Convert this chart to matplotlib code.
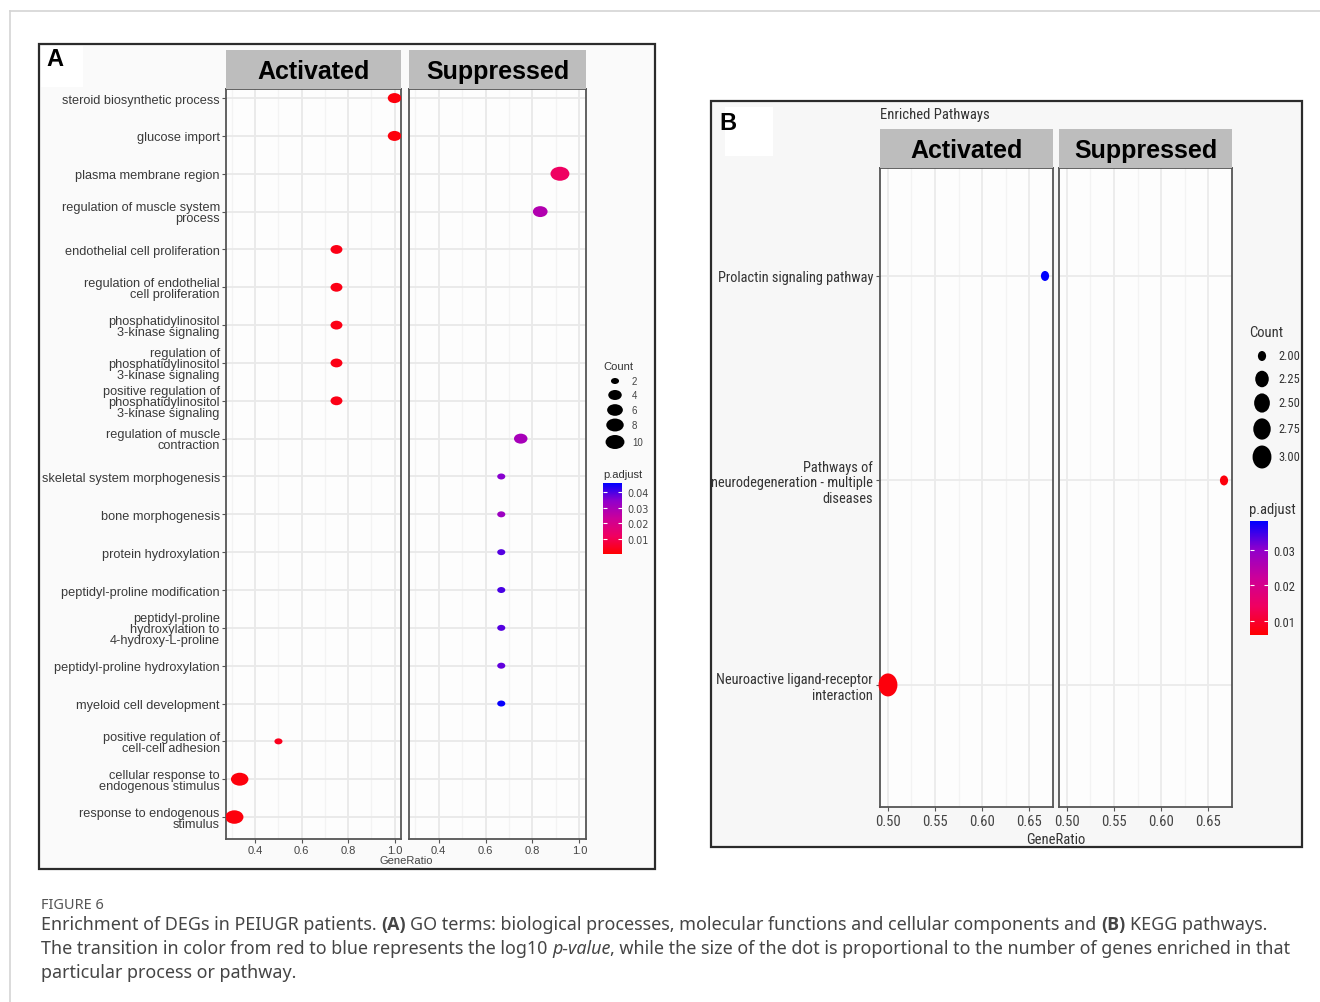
import numpy as np
import matplotlib
matplotlib.use('Agg')
import matplotlib.pyplot as plt
from matplotlib.colors import LinearSegmentedColormap, Normalize
from matplotlib.cm import ScalarMappable
from matplotlib.patches import Rectangle
from matplotlib.lines import Line2D
from matplotlib.path import Path
from matplotlib.markers import MarkerStyle
from matplotlib.transforms import Affine2D
import logging

logging.getLogger('matplotlib.font_manager').setLevel(logging.ERROR)

W, H = 1320, 1003

# ---- panel A: GO terms (top to bottom) ----
go_terms = [
    'steroid biosynthetic process',
    'glucose import',
    'plasma membrane region',
    'regulation of muscle system\nprocess',
    'endothelial cell proliferation',
    'regulation of endothelial\ncell proliferation',
    'phosphatidylinositol\n3-kinase signaling',
    'regulation of\nphosphatidylinositol\n3-kinase signaling',
    'positive regulation of\nphosphatidylinositol\n3-kinase signaling',
    'regulation of muscle\ncontraction',
    'skeletal system morphogenesis',
    'bone morphogenesis',
    'protein hydroxylation',
    'peptidyl-proline modification',
    'peptidyl-proline\nhydroxylation to\n4-hydroxy-L-proline',
    'peptidyl-proline hydroxylation',
    'myeloid cell development',
    'positive regulation of\ncell-cell adhesion',
    'cellular response to\nendogenous stimulus',
    'response to endogenous\nstimulus',
]

go_act_rows = [0, 1, 4, 5, 6, 7, 8, 17, 18, 19]
go_act_ratio = [1.0, 1.0, 0.75, 0.75, 0.75, 0.75, 0.75, 0.5, 0.333, 0.31]
go_act_count = [4, 4, 3, 3, 3, 3, 3, 2, 8, 9]
go_act_padj = [0.002, 0.002, 0.003, 0.003, 0.003, 0.003, 0.003, 0.004, 0.002, 0.002]

go_sup_rows = [2, 3, 9, 10, 11, 12, 13, 14, 15, 16]
go_sup_ratio = [0.917, 0.833, 0.75, 0.667, 0.667, 0.667, 0.667, 0.667, 0.667, 0.667]
go_sup_count = [10, 5, 4, 2, 2, 2, 2, 2, 2, 2]
go_sup_padj = [0.012, 0.028, 0.030, 0.035, 0.032, 0.039, 0.040, 0.039, 0.038, 0.045]

go_count_breaks = [2, 4, 6, 8, 10]
go_padj_ticks = [0.01, 0.02, 0.03, 0.04]

# ---- panel B: KEGG pathways (bottom to top) ----
kegg_terms = [
    'Neuroactive ligand-receptor\ninteraction',
    'Pathways of\nneurodegeneration - multiple\ndiseases',
    'Prolactin signaling pathway',
]
kegg_act_rows = [2, 0]
kegg_act_ratio = [0.667, 0.5]
kegg_act_count = [2, 3]
kegg_act_padj = [0.038, 0.007]

kegg_sup_rows = [1]
kegg_sup_ratio = [0.667]
kegg_sup_count = [2]
kegg_sup_padj = [0.007]

kegg_count_breaks = [2.00, 2.25, 2.50, 2.75, 3.00]
kegg_padj_ticks = [0.01, 0.02, 0.03]

facets = ['Activated', 'Suppressed']

cmap = LinearSegmentedColormap.from_list(
    'padj', ['#ff0000', '#f00060', '#cc0099', '#9000cc', '#0000ff'])
norm_a = Normalize(0.0005, 0.0457)
norm_b = Normalize(0.006, 0.038)

SANS = ['Liberation Sans', 'DejaVu Sans']
NARROW = ['Liberation Sans Narrow', 'Roboto Condensed', 'Noto Sans Condensed',
          'Open Sans Condensed', 'Liberation Sans', 'DejaVu Sans']

fig = plt.figure(figsize=(W / 100, H / 100), dpi=100)
fig.patch.set_facecolor('white')


def px_axes(x0, y0, x1, y1, **kw):
    return fig.add_axes([x0 / W, 1 - y1 / H, (x1 - x0) / W, (y1 - y0) / H], **kw)


def px_rect(x0, y0, x1, y1, **kw):
    r = Rectangle((x0 / W, 1 - y1 / H), (x1 - x0) / W, (y1 - y0) / H,
                  transform=fig.transFigure, **kw)
    fig.add_artist(r)
    return r


def px_text(x, y, s, **kw):
    return fig.text(x / W, 1 - y / H, s, **kw)


def ellipse(sx, sy):
    return MarkerStyle(Path.unit_circle().transformed(Affine2D().scale(sx, sy)))


# dot sizes (pixels -> points^2)
def size_a(c):
    h = 6 + 8 * np.sqrt((np.asarray(c, float) - 2) / 8)
    return (1.35 * h * 0.72) ** 2


def size_b(c):
    h = 10 + 13 * np.sqrt(np.asarray(c, float) - 2)
    return (h * 0.72) ** 2


mk_a = ellipse(1.35, 1.0)
mk_b = ellipse(0.82, 1.0)

# outer page lines
fig.add_artist(Line2D([10 / W, 1], [1 - 12 / H] * 2, color='#d4d4d4', lw=1.2))
fig.add_artist(Line2D([10 / W] * 2, [0, 1 - 12 / H], color='#d4d4d4', lw=1.2))

# panel frames
frame_a = px_rect(39, 45, 655, 870, facecolor='#fafafa', edgecolor='#2b2b2b', lw=1.6, zorder=-2)
frame_b = px_rect(711, 102, 1302, 848, facecolor='#f7f7f7', edgecolor='#2b2b2b', lw=1.6,
                  zorder=-2)
px_rect(41, 47, 83, 88, facecolor='white', edgecolor='none', zorder=-1)
px_rect(725, 108, 773, 157, facecolor='white', edgecolor='none', zorder=-1)
px_text(55, 60, 'A', fontsize=17, fontweight='bold', ha='center', va='center', family=SANS)
px_text(728, 124, 'B', fontsize=17, fontweight='bold', ha='center', va='center', family=SANS)


def style_facet(ax):
    ax.set_facecolor('#fdfdfd')
    for sp in ax.spines.values():
        sp.set_color('#555555')
        sp.set_linewidth(1.3)
    ax.set_axisbelow(True)


# ---- panel A ----
n_go = len(go_terms)
go_data = [(go_act_rows, go_act_ratio, go_act_count, go_act_padj),
           (go_sup_rows, go_sup_ratio, go_sup_count, go_sup_padj)]
for k, (x0, x1) in enumerate([(226, 401), (409, 586)]):
    ax = px_axes(x0, 90, x1, 840)
    style_facet(ax)
    ax.set_xlim(0.274, 1.028)
    ax.set_ylim(-0.58, n_go - 1 + 0.24)
    ax.set_xticks([0.4, 0.6, 0.8, 1.0])
    ax.set_xticklabels(['0.4', '0.6', '0.8', '1.0'])
    ax.set_xticks([0.3, 0.5, 0.7, 0.9], minor=True)
    ax.set_yticks(np.arange(n_go))
    ax.grid(which='major', color='#e9e9e9', lw=1.3)
    ax.grid(which='minor', axis='x', color='#f3f3f3', lw=0.9)
    ax.tick_params(axis='x', which='major', length=3, color='#555555', labelsize=8,
                   labelcolor='#444444', pad=1)
    ax.tick_params(which='minor', length=0)
    if k == 0:
        ax.set_yticklabels(go_terms[::-1], fontsize=9.2, color='#3a3a3a',
                           family=SANS, linespacing=0.9)
        ax.tick_params(axis='y', length=3, color='#555555', pad=1.5)
    else:
        ax.set_yticklabels([])
        ax.tick_params(axis='y', length=0)
    for lbl in ax.get_xticklabels():
        lbl.set_family(SANS)
    rows, ratio, count, padj = go_data[k]
    ax.scatter(ratio, [n_go - 1 - r for r in rows], s=size_a(count), c=padj,
               cmap=cmap, norm=norm_a, marker=mk_a, edgecolors='none', zorder=3)
    st = px_axes(x0, 51, x1, 90)
    st.set_facecolor('#bdbdbd')
    st.set_xticks([])
    st.set_yticks([])
    for sp in st.spines.values():
        sp.set_visible(False)
    st.text(0.5, 0.45, facets[k], transform=st.transAxes, ha='center', va='center',
            fontsize=18, fontweight='bold', color='black', family=SANS)

px_text(406, 861, 'GeneRatio', fontsize=8, color='#444444', ha='center', va='center',
        family=SANS)

# count legend A
px_text(603, 367, 'Count', fontsize=8, color='#333333', ha='left', va='center', family=SANS)
leg = px_axes(598, 374, 650, 452)
leg.set_xlim(0, 52)
leg.set_ylim(78, 0)
leg.axis('off')
key_y = 8 + np.array([0, 14, 29, 44, 61])
leg.scatter(np.full(len(go_count_breaks), 17), key_y, s=size_a(go_count_breaks),
            c='black', marker=mk_a, edgecolors='none')
for yy, c in zip(key_y, go_count_breaks):
    leg.text(34, yy, str(c), fontsize=7, color='#444444', va='center', family=SANS)

px_text(603, 475, 'p.adjust', fontsize=8, color='#333333', ha='left', va='center', family=SANS)
cax = px_axes(603, 484, 622, 555)
cb = fig.colorbar(ScalarMappable(norm=norm_a, cmap=cmap), cax=cax, ticks=go_padj_ticks)
cb.outline.set_visible(False)
cax.tick_params(left=True, right=True, labelleft=False, labelright=True, direction='in',
                color='white', length=3, width=0.8, labelsize=7, labelcolor='#444444', pad=4)

# ---- panel B ----
n_kg = len(kegg_terms)
kegg_data = [(kegg_act_rows, kegg_act_ratio, kegg_act_count, kegg_act_padj),
             (kegg_sup_rows, kegg_sup_ratio, kegg_sup_count, kegg_sup_padj)]
for k, (x0, x1) in enumerate([(880, 1053), (1059, 1232)]):
    ax = px_axes(x0, 169, x1, 808)
    style_facet(ax)
    ax.set_xlim(0.4915, 0.6755)
    ax.set_ylim(-0.597, 2.528)
    ax.set_xticks([0.50, 0.55, 0.60, 0.65])
    ax.set_xticklabels(['0.50', '0.55', '0.60', '0.65'])
    ax.set_xticks([0.525, 0.575, 0.625, 0.675], minor=True)
    ax.set_yticks(np.arange(n_kg))
    ax.grid(which='major', color='#ebebeb', lw=1.3)
    ax.grid(which='minor', axis='x', color='#f3f3f3', lw=0.9)
    ax.tick_params(axis='x', which='major', length=3, color='#555555', labelsize=10.5,
                   labelcolor='#444444', pad=2)
    ax.tick_params(which='minor', length=0)
    for lbl in ax.get_xticklabels():
        lbl.set_family(NARROW)
    if k == 0:
        ax.set_yticklabels(kegg_terms, fontsize=10.4, color='#333333', family=NARROW,
                           linespacing=1.1)
        ax.tick_params(axis='y', length=3, color='#555555', pad=2)
        for lbl in ax.get_yticklabels():
            lbl.set_clip_path(frame_b)
    else:
        ax.set_yticklabels([])
        ax.tick_params(axis='y', length=0)
    rows, ratio, count, padj = kegg_data[k]
    ax.scatter(ratio, rows, s=size_b(count), c=padj, cmap=cmap, norm=norm_b,
               marker=mk_b, edgecolors='none', zorder=3, clip_on=False)
    st = px_axes(x0, 130, x1, 169)
    st.set_facecolor('#bdbdbd')
    st.set_xticks([])
    st.set_yticks([])
    for sp in st.spines.values():
        sp.set_visible(False)
    st.text(0.5, 0.45, facets[k], transform=st.transAxes, ha='center', va='center',
            fontsize=18, fontweight='bold', color='black', family=SANS)

px_text(880, 115, 'Enriched Pathways', fontsize=10.5, color='#333333', ha='left',
        va='center', family=NARROW)
px_text(1056, 840, 'GeneRatio', fontsize=10.5, color='#333333', ha='center', va='center',
        family=NARROW)

# count legend B
px_text(1249, 333, 'Count', fontsize=10.5, color='#333333', ha='left', va='center',
        family=NARROW)
leg = px_axes(1245, 342, 1300, 472)
leg.set_xlim(0, 55)
leg.set_ylim(130, 0)
leg.axis('off')
key_y = 15 + np.array([0, 23, 47, 73, 101])
leg.scatter(np.full(len(kegg_count_breaks), 17), key_y, s=size_b(kegg_count_breaks),
            c='black', marker=mk_b, edgecolors='none')
for yy, c in zip(key_y, kegg_count_breaks):
    leg.text(33, yy, f'{c:.2f}', fontsize=9, color='#333333', va='center', family=NARROW)

px_text(1249, 510, 'p.adjust', fontsize=10.5, color='#333333', ha='left', va='center',
        family=NARROW)
cax = px_axes(1250, 522, 1268, 636)
cb = fig.colorbar(ScalarMappable(norm=norm_b, cmap=cmap), cax=cax, ticks=kegg_padj_ticks)
cb.outline.set_visible(False)
cax.tick_params(left=True, right=True, labelleft=False, labelright=True, direction='in',
                color='white', length=3, width=0.8, labelsize=9, labelcolor='#333333', pad=4)
for lbl in cax.get_yticklabels():
    lbl.set_family(NARROW)

# ---- caption ----
CAP = ['Noto Sans', 'DejaVu Sans']
CAP_BOLD = ['Open Sans', 'DejaVu Sans']
px_text(41, 906, 'FIGURE 6', fontsize=10.5, color='#555555', ha='left', va='center', family=CAP)

renderer = fig.canvas.get_renderer()


def text_width(s, **kw):
    t = fig.text(0, 0, s, **kw)
    w = t.get_window_extent(renderer=renderer).width
    t.remove()
    return w


def rich_line(x, y, parts, size):
    base = dict(fontsize=size, family=CAP)
    gap = text_width('x x', **base) - text_width('xx', **base)
    for txt, style, space in parts:
        if space:
            x += gap
        kw = dict(base)
        if style == 'b':
            kw['fontweight'] = 'bold'
            kw['family'] = CAP_BOLD
        elif style == 'i':
            kw['fontstyle'] = 'italic'
        t = px_text(x, y, txt, color='#454545', ha='left', va='center', **kw)
        x += t.get_window_extent(renderer=renderer).width


cap_size = 12.9
rich_line(41, 925, [
    ('Enrichment of DEGs in PEIUGR patients.', 'n', False),
    ('(A)', 'b', True),
    ('GO terms: biological processes, molecular functions and cellular components and', 'n', True),
    ('(B)', 'b', True),
    ('KEGG pathways.', 'n', True),
], cap_size)
rich_line(41, 949, [
    ('The transition in color from red to blue represents the log10', 'n', False),
    ('p-value', 'i', True),
    (', while the size of the dot is proportional to the number of genes enriched in that',
     'n', False),
], cap_size)
rich_line(41, 973, [('particular process or pathway.', 'n', False)], cap_size)

fig.savefig('out.png', dpi=100)
